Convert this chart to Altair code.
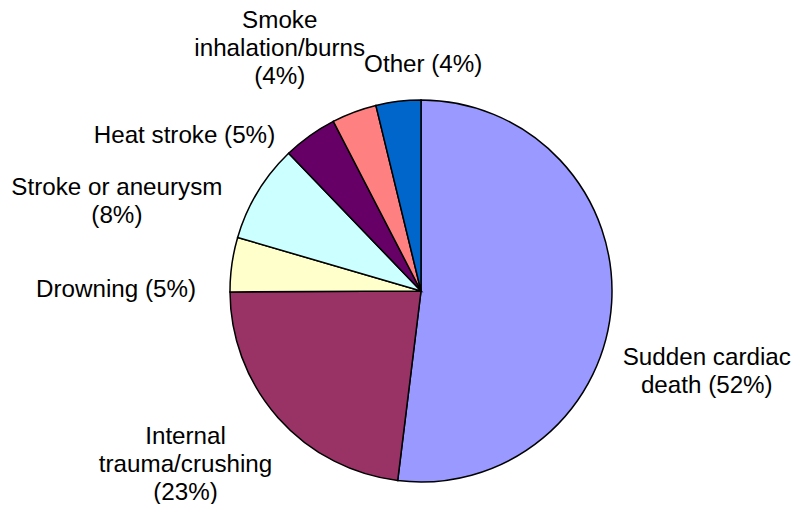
import altair as alt
import pandas as pd

# Data
categories = [
    "Sudden cardiac death",
    "Internal trauma/crushing",
    "Drowning",
    "Stroke or aneurysm",
    "Heat stroke",
    "Smoke inhalation/burns",
    "Other",
]
values = [52.0, 23.0, 4.6, 8.3, 4.6, 3.8, 3.8]
labels = [
    "Sudden cardiac\ndeath (52%)",
    "Internal\ntrauma/crushing\n(23%)",
    "Drowning (5%)",
    "Stroke or aneurysm\n(8%)",
    "Heat stroke (5%)",
    "Smoke\ninhalation/burns\n(4%)",
    "Other (4%)",
]

# Styling
colors = ["#9999FF", "#993366", "#FFFFCC", "#CCFFFF", "#660066", "#FF8080", "#0066CC"]
label_angle_offset = [12.3, 5.1, -7.9, -14.8, -21.1, -9.8, 7.4]   # degrees from slice middle
label_radius = [297, 293, 305, 317, 283, 280, 226]                  # px from pie centre

CX, CY, R = 413, 275, 191
LH = 28

df = pd.DataFrame({
    "category": categories,
    "value": values,
    "label": labels,
    "idx": list(range(len(categories))),
    "off": label_angle_offset,
    "lr": label_radius,
})

pie = alt.Chart(df).mark_arc(stroke="black", strokeWidth=1.5).encode(
    theta=alt.Theta("value:Q", stack=True),
    color=alt.Color("category:N", sort=categories,
                    scale=alt.Scale(domain=categories, range=colors), legend=None),
    order=alt.Order("idx:Q"),
    x=alt.value(CX),
    y=alt.value(CY),
    radius=alt.value(R),
)

text = alt.Chart(df).transform_window(
    cum="sum(value)", sort=[alt.SortField("idx")], frame=[None, 0]
).transform_joinaggregate(
    total="sum(value)"
).transform_calculate(
    ang="(datum.cum - datum.value/2) / datum.total * 2 * PI + datum.off * PI / 180",
    nl="length(split(datum.label, '\\n'))",
).transform_calculate(
    lx=f"{CX} + datum.lr * sin(datum.ang)",
    ly=f"{CY} - datum.lr * cos(datum.ang) - (datum.nl - 1) * {LH} / 2",
).mark_text(
    font="Liberation Sans", fontSize=24.2, lineBreak="\n", lineHeight=LH,
    align="center", baseline="middle", color="black",
).encode(
    x=alt.X("lx:Q", scale=None, axis=None),
    y=alt.Y("ly:Q", scale=None, axis=None),
    text="label:N",
)

chart = alt.layer(pie, text).properties(
    width=785, height=488,
    autosize=alt.AutoSizeParams(type="none"),
    padding={"left": 0, "top": 8, "right": 0, "bottom": 0},
).configure_view(stroke=None)

chart.save("out.html", embed_options={"renderer": "svg", "actions": False})
